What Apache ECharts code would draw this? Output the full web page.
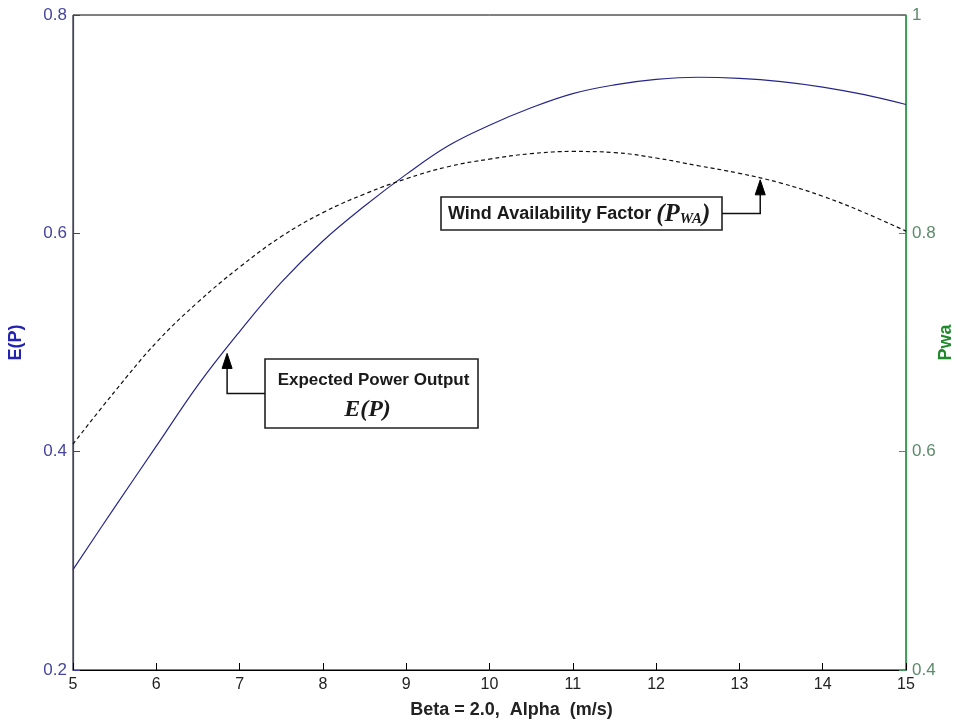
<!DOCTYPE html>
<html>
<head>
<meta charset="utf-8">
<script src="https://cdn.jsdelivr.net/npm/echarts@6/dist/echarts.min.js"></script>
<style>
  html, body { margin: 0; padding: 0; background: #fff; }
  #chart { width: 959px; height: 727px; }
</style>
</head>
<body>
<div id="chart"></div>
<script>
// Alpha (m/s) sample points
const alpha = [5, 5.5, 6, 6.5, 7, 7.5, 8, 8.5, 9, 9.5, 10, 10.5, 11, 11.5, 12, 12.5, 13, 13.5, 14, 14.5, 15];
// Expected power output E(P), left axis
const expectedPower = [0.292, 0.349, 0.405, 0.461, 0.510, 0.555, 0.593, 0.625, 0.654, 0.680, 0.699, 0.715, 0.728, 0.736, 0.741, 0.743, 0.742, 0.739, 0.734, 0.727, 0.718];
// Wind availability factor Pwa, right axis
const windAvailability = [0.607, 0.655, 0.700, 0.737, 0.769, 0.797, 0.819, 0.836, 0.850, 0.861, 0.868, 0.873, 0.875, 0.874, 0.869, 0.862, 0.855, 0.846, 0.834, 0.819, 0.802];

// Axis ranges
const xRange = [5, 15, 1];
const leftRange = [0.2, 0.8, 0.2];
const rightRange = [0.4, 1.0, 0.2];

// Points the callout arrows touch: [alpha, value]
const pwaNote = [13.25, 0.849];
const epNote = [6.85, 0.49];

const FONT = "'Liberation Sans', Arial, sans-serif";
const SERIF = "'Liberation Serif', 'Times New Roman', serif";

const pairs = (ys) => alpha.map((x, i) => [x, ys[i]]);

const chart = echarts.init(document.getElementById('chart'), null, { renderer: 'canvas' });

const option = {
  backgroundColor: '#ffffff',
  animation: false,
  grid: {
    left: 73, right: 53, top: 15, bottom: 57,
    containLabel: false,
    outerBoundsMode: 'none',
    show: true, borderColor: '#000', borderWidth: 1, backgroundColor: 'transparent'
  },
  xAxis: {
    type: 'value',
    min: xRange[0], max: xRange[1], interval: xRange[2],
    name: 'Beta = 2.0,  Alpha  (m/s)',
    nameLocation: 'middle',
    nameGap: 31,
    nameMoveOverlap: false,
    nameTextStyle: { fontFamily: FONT, fontSize: 18, fontWeight: 'bold', color: '#222',
      padding: [0, 0, 0, 44] },
    axisLine: { lineStyle: { color: '#000', width: 1 } },
    axisTick: { inside: true, length: 7, lineStyle: { color: '#000' } },
    axisLabel: { fontFamily: FONT, fontSize: 16, color: '#222', margin: 7 },
    splitLine: { show: false }
  },
  yAxis: [
    {
      type: 'value',
      position: 'left',
      min: leftRange[0], max: leftRange[1], interval: leftRange[2],
      name: 'E(P)',
      nameLocation: 'middle',
      nameRotate: 90,
      nameGap: 48,
      nameMoveOverlap: false,
      nameTextStyle: { fontFamily: FONT, fontSize: 18, fontWeight: 'bold', color: '#2424b0' },
      axisLine: { show: true, lineStyle: { color: '#3c3c9c', width: 1.2 } },
      axisTick: { show: true, inside: true, length: 7, lineStyle: { color: '#3c3c9c' } },
      axisLabel: { fontFamily: FONT, fontSize: 17, color: '#45459e', margin: 6,
        formatter: (v) => (Math.round(v * 10) / 10).toString() },
      splitLine: { show: false }
    },
    {
      type: 'value',
      position: 'right',
      min: rightRange[0], max: rightRange[1], interval: rightRange[2],
      name: 'Pwa',
      nameLocation: 'middle',
      nameRotate: 90,
      nameGap: 31,
      nameMoveOverlap: false,
      nameTextStyle: { fontFamily: FONT, fontSize: 18, fontWeight: 'bold', color: '#1f8a2c' },
      axisLine: { show: true, lineStyle: { color: '#3f9a5a', width: 1.2 } },
      axisTick: { show: true, inside: true, length: 7, lineStyle: { color: '#3f9a5a' } },
      axisLabel: { fontFamily: FONT, fontSize: 17, color: '#5c8a6a', margin: 6,
        formatter: (v) => (Math.round(v * 10) / 10).toString() },
      splitLine: { show: false }
    }
  ],
  series: [
    {
      name: 'E(P)',
      type: 'line',
      yAxisIndex: 0,
      data: pairs(expectedPower),
      smooth: 0.4,
      showSymbol: false,
      lineStyle: { color: '#26268a', width: 1.2 },
      z: 3
    },
    {
      name: 'Pwa',
      type: 'line',
      yAxisIndex: 1,
      data: pairs(windAvailability),
      smooth: 0.4,
      showSymbol: false,
      lineStyle: { color: '#111', width: 1.2, type: [4, 3] },
      z: 3
    }
  ]
};

chart.setOption(option);

// Callout boxes with elbow arrows pointing at the curves
function callouts() {
  const pTip = chart.convertToPixel({ seriesIndex: 1 }, pwaNote);
  const eTip = chart.convertToPixel({ seriesIndex: 0 }, epNote);
  const stroke = { stroke: '#111', lineWidth: 1.5, fill: null };
  const head = (tip) => ({
    type: 'polygon',
    shape: { points: [[tip[0], tip[1]], [tip[0] - 5, tip[1] + 15], [tip[0] + 5, tip[1] + 15]] },
    style: { fill: '#000', stroke: '#000', lineWidth: 1 },
    z: 10
  });

  const box1 = { x: 441, y: 197, w: 281, h: 33 };
  const box2 = { x: 265, y: 359, w: 213, h: 69 };
  const mid1 = box1.y + box1.h / 2;
  const mid2 = box2.y + box2.h / 2;

  chart.setOption({
    graphic: [
      {
        type: 'rect',
        shape: { x: box1.x, y: box1.y, width: box1.w, height: box1.h },
        style: { fill: '#fff', stroke: '#222', lineWidth: 1.6 },
        z: 9
      },
      {
        type: 'text',
        x: box1.x + 7, y: mid1 + 1,
        style: {
          text: '{t|Wind Availability Factor }{m|(P}{s|WA}{m|)}',
          verticalAlign: 'middle', align: 'left',
          rich: {
            t: { font: 'bold 18px ' + FONT, fill: '#1a1a1a', verticalAlign: 'middle' },
            m: { font: 'italic bold 25px ' + SERIF, fill: '#1a1a1a', verticalAlign: 'middle' },
            s: { font: 'italic bold 15px ' + SERIF, fill: '#1a1a1a', verticalAlign: 'bottom', padding: [7, 0, 0, 0] }
          }
        },
        z: 10
      },
      {
        type: 'polyline',
        shape: { points: [[box1.x + box1.w, mid1], [pTip[0], mid1], [pTip[0], pTip[1] + 14]] },
        style: stroke,
        z: 10
      },
      head(pTip),
      {
        type: 'rect',
        shape: { x: box2.x, y: box2.y, width: box2.w, height: box2.h },
        style: { fill: '#fff', stroke: '#222', lineWidth: 1.6 },
        z: 9
      },
      {
        type: 'text',
        x: box2.x + box2.w / 2 + 2, y: box2.y + 21,
        style: { text: 'Expected Power Output', font: 'bold 17px ' + FONT, fill: '#1a1a1a',
          align: 'center', verticalAlign: 'middle' },
        z: 10
      },
      {
        type: 'text',
        x: box2.x + box2.w / 2 - 4, y: box2.y + 51,
        style: { text: 'E(P)', font: 'italic bold 24px ' + SERIF, fill: '#1a1a1a',
          align: 'center', verticalAlign: 'middle' },
        z: 10
      },
      {
        type: 'polyline',
        shape: { points: [[box2.x, mid2], [eTip[0], mid2], [eTip[0], eTip[1] + 14]] },
        style: stroke,
        z: 10
      },
      head(eTip)
    ]
  });
}

callouts();
</script>
</body>
</html>
